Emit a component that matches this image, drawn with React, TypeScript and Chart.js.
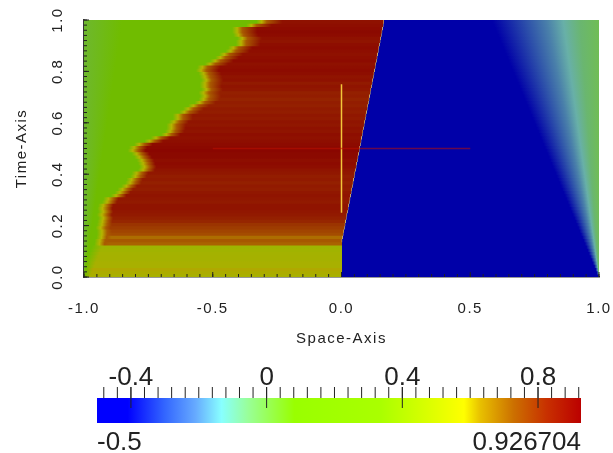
import React, { useEffect, useRef } from "react";
import { Chart, registerables } from "chart.js";

Chart.register(...registerables);

const FONT = "'Liberation Sans', Arial, sans-serif";

// Row centres go from t = 0 upward; each row is 1/80 of the time axis
const rowCount = 80;
// Position of the green/red front in each row (bottom to top)
const frontX = [
  -0.995, -0.99, -0.985, -0.98, -0.975, -0.97, -0.965, -0.96, -0.955, -0.95,
  -0.94, -0.938, -0.932, -0.93, -0.93, -0.935, -0.93, -0.928, -0.925, -0.93,
  -0.925, -0.928, -0.925, -0.91, -0.905, -0.875, -0.86, -0.85, -0.835, -0.82,
  -0.815, -0.8, -0.795, -0.77, -0.765, -0.77, -0.775, -0.785, -0.795, -0.81,
  -0.805, -0.785, -0.745, -0.72, -0.68, -0.665, -0.66, -0.66, -0.65, -0.635,
  -0.635, -0.61, -0.595, -0.575, -0.55, -0.535, -0.53, -0.535, -0.525, -0.53,
  -0.53, -0.525, -0.53, -0.535, -0.545, -0.54, -0.51, -0.49, -0.47, -0.455,
  -0.43, -0.42, -0.39, -0.39, -0.385, -0.4, -0.405, -0.405, -0.35, -0.31,
];
// Field value on the plateau behind the front, per row
const rowPeak = [
  0.5, 0.53, 0.56, 0.5, 0.5, 0.48, 0.48, 0.47, 0.45, 0.43,
  0.68, 0.7, 0.66, 0.72, 0.74, 0.76, 0.78, 0.82, 0.84, 0.86,
  0.87, 0.88, 0.88, 0.86, 0.87, 0.88, 0.87, 0.85, 0.86, 0.84,
  0.86, 0.85, 0.87, 0.88, 0.9, 0.91, 0.9, 0.92, 0.92, 0.93,
  0.92, 0.91, 0.9, 0.89, 0.9, 0.88, 0.89, 0.87, 0.88, 0.86,
  0.87, 0.85, 0.86, 0.84, 0.85, 0.83, 0.85, 0.84, 0.87, 0.88,
  0.86, 0.89, 0.88, 0.9, 0.91, 0.9, 0.89, 0.91, 0.9, 0.89,
  0.9, 0.91, 0.9, 0.88, 0.89, 0.91, 0.92, 0.91, 0.9, 0.89,
];
// Red/blue interface: x = slope * (t - start)
const interfaceStart = 0.137;
const interfaceEnd = 0.165;
// Fan on the right: xi = (1 - x) / t
const fanXi = [0, 0.074, 0.139, 0.203, 0.281, 0.415];
const fanColors = ["#70bd55", "#6ab670", "#68b0a8", "#4a80aa", "#2e52aa", "#0000a8"];
// Colour lookup inside the plot
const plotV = [0.2, 0.42, 0.5, 0.56, 0.64, 0.72, 0.8, 0.86, 0.9, 0.93];
const plotC = ["#70bc00", "#9cb400", "#a8b000", "#b0a800", "#b07800", "#a44c00", "#982c00", "#921a00", "#8e0e00", "#8a0600"];
// Colour bar
const barMin = -0.5;
const barMax = 0.926704;
const barV = [-0.5, -0.41, -0.3, -0.21, -0.133, -0.055, 0.082, 0.337, 0.582, 0.63, 0.728, 0.826, 0.926704];
const barC = ["#0000ff", "#0000ff", "#3366ff", "#66aaff", "#88ffff", "#99ff99", "#99ff00", "#aaff00", "#ffff00", "#e8c000", "#cc7000", "#c83000", "#bb0000"];
const barTop = [-0.4, 0, 0.4, 0.8];
const barBottom = [barMin, barMax];
// Axes
const xTicks = [-1, -0.5, 0, 0.5, 1];
const yTicks = [0, 0.2, 0.4, 0.6, 0.8, 1];
// Overlay lines
const crossX = [-0.5, 0.5];
const crossT = [0.5, 0.5];
const stemX = [0, 0];
const stemT = [0.25, 0.75];

const hex = (c: string) => [1, 3, 5].map((i) => parseInt(c.slice(i, i + 2), 16));
function shade(v: number) {
  if (v <= plotV[0]) return plotC[0];
  for (let i = 1; i < plotV.length; i++) {
    if (v <= plotV[i]) {
      const f = (v - plotV[i - 1]) / (plotV[i] - plotV[i - 1]);
      const a = hex(plotC[i - 1]);
      const b = hex(plotC[i]);
      return `rgb(${a.map((q, k) => Math.round(q + (b[k] - q) * f)).join(",")})`;
    }
  }
  return plotC[plotC.length - 1];
}

function rowStops(i: number): [number, string][] {
  const t = (i + 0.5) / rowCount;
  const f = frontX[i];
  const peak = rowPeak[i];
  const hot = peak >= 0.6;
  const xi = Math.max(0, (interfaceEnd * (t - interfaceStart)) / (1 - interfaceStart));
  const s: [number, string][] = [];
  s.push([-1, "#6eb82e"]);
  s.push([-1 + 0.15 * t, "#70bc00"]);
  s.push([f - 0.02, "#70bc00"]);
  if (hot) {
    s.push([f, "#b5b400"]);
    s.push([f + 0.02, "#a85a00"]);
    s.push([f + 0.02 + 0.06 * Math.max(0.3, t), shade(peak)]);
  } else {
    s.push([f + 0.02, shade(peak)]);
  }
  s.push([xi - 0.002, shade(peak)]);
  s.push([xi, xi > 0 ? "#c8b070" : shade(peak)]);
  s.push([xi + 0.003, "#0000a8"]);
  for (let k = fanXi.length - 1; k >= 0; k--) s.push([1 - fanXi[k] * t, fanColors[k]]);
  let last = -1;
  return s.map(([x, c]) => {
    last = Math.max(last, Math.min(1, x));
    return [last, c] as [number, string];
  });
}

const tickMarks = {
  id: "tickMarks",
  afterDatasetsDraw(chart: any, _a: any, o: any) {
    const ctx = chart.ctx;
    ctx.save();
    ctx.strokeStyle = "#222";
    ctx.lineWidth = 1;
    for (const m of o.marks as any[]) {
      const sc = chart.scales[m.scale];
      for (const v of m.values) {
        const p = sc.getPixelForValue(v);
        ctx.beginPath();
        if (sc.isHorizontal()) {
          ctx.moveTo(p, m.from);
          ctx.lineTo(p, m.to);
        } else {
          ctx.moveTo(m.from, p);
          ctx.lineTo(m.to, p);
        }
        ctx.stroke();
      }
    }
    ctx.restore();
  },
};

const letterSpacing = {
  id: "letterSpacing",
  beforeDraw(chart: any) {
    chart.ctx.letterSpacing = "1.5px";
  },
};

const steps = (a: number, b: number, d: number) =>
  Array.from({ length: Math.round((b - a) / d) + 1 }, (_, i) => +(a + i * d).toFixed(4));

function axisGradient(c: any, lo: number, hi: number) {
  const sc = c.chart.scales.x;
  const a = sc ? sc.getPixelForValue(lo) : NaN;
  const b = sc ? sc.getPixelForValue(hi) : NaN;
  if (!Number.isFinite(a) || !Number.isFinite(b)) return null;
  return c.chart.ctx.createLinearGradient(a, 0, b, 0);
}

const noEdgePad = (s: any) => {
  s.paddingLeft = 0;
  s.paddingRight = 0;
  s.paddingTop = 0;
  s.paddingBottom = 0;
};

export default function App() {
  const mainRef = useRef<HTMLCanvasElement>(null);
  const barRef = useRef<HTMLCanvasElement>(null);

  useEffect(() => {
    const rows = frontX.map((_, i) => ({ x: [-1, 1], y: (i + 0.5) / rowCount }));
    const main = new Chart(mainRef.current!, {
      type: "bar",
      plugins: [tickMarks, letterSpacing],
      data: {
        datasets: [
          {
            type: "scatter",
            indexAxis: "x",
            data: crossX.map((x, i) => ({ x, y: crossT[i] })),
            showLine: true,
            pointRadius: 0,
            borderColor: "rgba(190,15,0,0.55)",
            borderWidth: 1.6,
            order: 0,
          } as any,
          {
            type: "scatter",
            indexAxis: "x",
            data: stemX.map((x, i) => ({ x, y: stemT[i] })),
            showLine: true,
            pointRadius: 0,
            borderColor: "#f2c63a",
            borderWidth: 1.5,
            order: 0,
          } as any,
          {
            type: "bar",
            indexAxis: "y",
            data: rows as any,
            barThickness: 3.8,
            borderWidth: 0,
            order: 5,
            backgroundColor: (c: any) => {
              const g = axisGradient(c, -1, 1);
              if (!g || c.dataIndex === undefined) return "#000";
              for (const [x, col] of rowStops(c.dataIndex)) g.addColorStop((x + 1) / 2, col);
              return g;
            },
          } as any,
        ],
      },
      options: {
        indexAxis: "y",
        responsive: false,
        animation: false,
        layout: { padding: { top: 20, right: 14, left: 0, bottom: 0 } },
        plugins: {
          legend: { display: false },
          tooltip: { enabled: false },
          tickMarks: {
            marks: [
              { scale: "x", values: steps(-1, 1, 0.05), from: 277, to: 274 },
              { scale: "x", values: xTicks, from: 277, to: 272 },
              { scale: "y", values: steps(0, 1, 0.02), from: 84, to: 87 },
              { scale: "y", values: yTicks, from: 84, to: 89 },
            ],
          },
        } as any,
        scales: {
          x: {
            type: "linear",
            position: "bottom",
            offset: false,
            min: -1,
            max: 1,
            afterBuildTicks: (s: any) => {
              s.ticks = xTicks.map((value) => ({ value }));
            },
            afterFit: (s: any) => {
              s.height = 71;
              noEdgePad(s);
            },
            grid: { display: false, drawTicks: false },
            border: { display: true, color: "#333", width: 1.5 },
            ticks: {
              autoSkip: false,
              maxRotation: 0,
              padding: 23,
              color: "#222",
              font: { family: FONT, size: 15 },
              callback: (v: any) => Number(v).toFixed(1),
            },
            title: {
              display: true,
              text: "Space-Axis",
              color: "#222",
              font: { family: FONT, size: 15 },
              padding: { top: 0, bottom: 0 },
            },
          },
          y: {
            type: "linear",
            position: "left",
            offset: false,
            min: 0,
            max: 1,
            afterBuildTicks: (s: any) => {
              s.ticks = yTicks.map((value) => ({ value }));
            },
            afterFit: (s: any) => {
              s.width = 84;
              noEdgePad(s);
            },
            grid: { display: false, drawTicks: false },
            border: { display: true, color: "#333", width: 1.5 },
            ticks: {
              autoSkip: false,
              minRotation: 90,
              maxRotation: 90,
              crossAlign: "center",
              padding: 16,
              color: "#222",
              font: { family: FONT, size: 15 },
              callback: (v: any) => Number(v).toFixed(1),
            },
            title: {
              display: true,
              text: "Time-Axis",
              color: "#222",
              font: { family: FONT, size: 15 },
              padding: { top: 13, bottom: 13 },
            },
          },
        },
      } as any,
    });

    const bar = new Chart(barRef.current!, {
      type: "bar",
      plugins: [tickMarks],
      data: {
        labels: ["scale"],
        datasets: [
          {
            data: [[barMin, barMax]] as any,
            xAxisID: "x",
            barPercentage: 1,
            categoryPercentage: 1,
            borderWidth: 0,
            backgroundColor: (c: any) => {
              const g = axisGradient(c, barMin, barMax);
              if (!g) return "#000";
              barV.forEach((v, i) => g.addColorStop((v - barMin) / (barMax - barMin), barC[i]));
              return g;
            },
          } as any,
        ],
      },
      options: {
        indexAxis: "y",
        responsive: false,
        animation: false,
        layout: { padding: { left: 97, right: 32, top: 0, bottom: 0 } },
        plugins: {
          legend: { display: false },
          tooltip: { enabled: false },
          tickMarks: {
            marks: [
              { scale: "x", values: steps(-0.48, 0.92, 0.04), from: 42, to: 53 },
              { scale: "x", values: barTop, from: 42, to: 63 },
            ],
          },
        } as any,
        scales: {
          y: { display: false, type: "category", offset: true, grid: { display: false } },
          x: {
            type: "linear",
            position: "top",
            offset: false,
            min: barMin,
            max: barMax,
            afterBuildTicks: (s: any) => {
              s.ticks = barTop.map((value) => ({ value }));
            },
            afterFit: (s: any) => {
              s.height = 53;
              noEdgePad(s);
            },
            grid: { display: false, drawTicks: false },
            border: { display: false },
            ticks: {
              autoSkip: false,
              maxRotation: 0,
              padding: 5,
              color: "#222",
              font: { family: FONT, size: 26 },
              callback: (v: any) => String(v),
            },
          },
          x2: {
            type: "linear",
            position: "bottom",
            offset: false,
            min: barMin,
            max: barMax,
            afterBuildTicks: (s: any) => {
              s.ticks = barBottom.map((value) => ({ value }));
            },
            afterFit: (s: any) => {
              s.height = 30;
              noEdgePad(s);
            },
            grid: { display: false, drawTicks: false },
            border: { display: false },
            ticks: {
              autoSkip: false,
              align: "inner",
              maxRotation: 0,
              padding: 4,
              color: "#222",
              font: { family: FONT, size: 26 },
              callback: (v: any) => String(v),
            },
          },
        },
      } as any,
    });

    return () => {
      main.destroy();
      bar.destroy();
    };
  }, []);

  const soft: React.CSSProperties = { display: "block", position: "absolute", left: 0, filter: "blur(0.45px)" };
  return (
    <div style={{ position: "absolute", left: 0, top: 0, width: 613, height: 453, background: "#fff" }}>
      <canvas ref={mainRef} width={613} height={348} style={{ ...soft, top: 0 }} />
      <canvas ref={barRef} width={613} height={108} style={{ ...soft, top: 345 }} />
    </div>
  );
}
